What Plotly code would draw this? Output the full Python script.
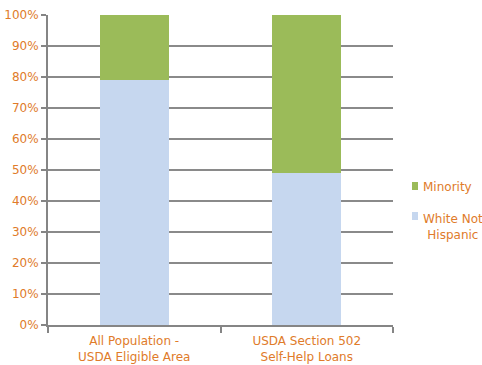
import plotly.graph_objects as go

categories = ["All Population -<br>USDA Eligible Area", "USDA Section 502<br>Self-Help Loans"]
white_not_hispanic = [79, 49]
minority = [21, 51]
y_ticks = [0, 10, 20, 30, 40, 50, 60, 70, 80, 90, 100]
y_tick_labels = [f"{v}%" for v in y_ticks]
series_names = ["White Not<br>Hispanic", "Minority"]
series_colors = ["#C6D7EF", "#9BBB59"]

orange = "#E07B2A"
font_family = "DejaVu Sans"

L, R, T, B, W, H = 48, 89, 15, 40, 482, 365
pw, ph = W - L - R, H - T - B

def px(x):
    return (x - L) / pw

def py(y):
    return (H - B - y) / ph

fig = go.Figure()
for vals, name, col in zip([white_not_hispanic, minority], series_names, series_colors):
    fig.add_trace(go.Bar(
        x=categories, y=vals, name=name,
        marker=dict(color=col, line=dict(width=0)), width=0.4,
        showlegend=False,
    ))

# manual legend (Minority on top)
legend_items = [(series_names[1], series_colors[1], 186, 186),
                (series_names[0], series_colors[0], 216, 218)]
shapes, annotations = [], []
for name, col, yc, yt in legend_items:
    shapes.append(dict(type="rect", xref="paper", yref="paper",
                       x0=px(412), x1=px(418), y0=py(yc - 4), y1=py(yc + 4),
                       fillcolor=col, line=dict(width=0)))
    annotations.append(dict(text=name, xref="paper", yref="paper",
                            x=px(421), y=py(yt - 8), xanchor="left", yanchor="top",
                            align="center", showarrow=False,
                            font=dict(size=12, color=orange, family=font_family)))

fig.update_layout(
    barmode="stack",
    width=W, height=H,
    margin=dict(l=L, r=R, t=T, b=B, autoexpand=False),
    paper_bgcolor="white", plot_bgcolor="white",
    font=dict(family=font_family, size=12, color=orange),
    bargap=0.6,
    showlegend=False,
    shapes=shapes,
    annotations=annotations,
)
fig.update_xaxes(
    showline=True, linecolor="#858585", linewidth=2,
    ticks="outside", tickson="boundaries", ticklen=6, tickcolor="#858585", tickwidth=2,
    tickfont=dict(size=12, color=orange), showgrid=False, automargin=False,
    ticklabelstandoff=4,
)
fig.update_yaxes(
    range=[0, 100], tickvals=y_ticks, ticktext=y_tick_labels,
    showline=True, linecolor="#858585", linewidth=2,
    ticks="outside", ticklen=5, tickcolor="#858585", tickwidth=2,
    showgrid=True, gridcolor="#8a8a8a", gridwidth=1.5,
    tickfont=dict(size=12, color=orange), zeroline=False, automargin=False,
)

fig.write_html("out.html")
